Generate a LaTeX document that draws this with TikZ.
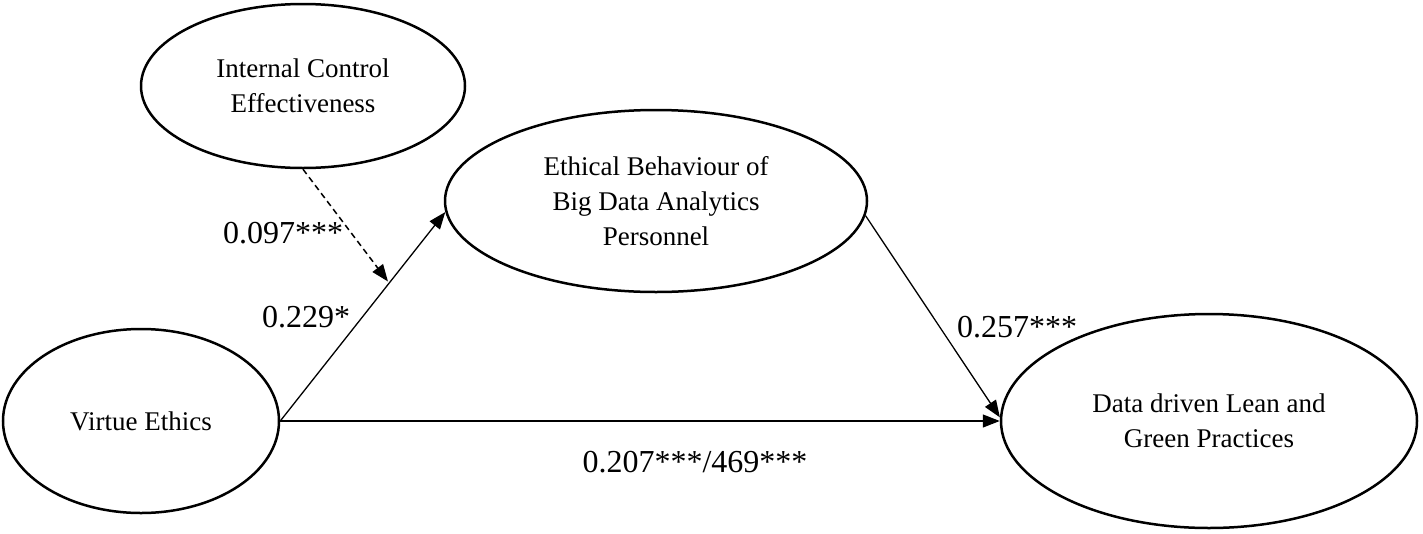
\documentclass[tikz,border=0pt]{standalone}
\usepackage{fontspec}
\setmainfont{Liberation Serif}
\usetikzlibrary{shapes.geometric,arrows.meta}
\begin{document}
\begin{tikzpicture}[x=1pt,y=-1pt,
 ell/.style={draw, ellipse, line width=2.5pt, inner sep=0pt, align=center, font=\fontsize{27}{35}\selectfont},
 lbl/.style={font=\fontsize{32}{38}\selectfont, inner sep=0pt},
 arr/.style={line width=1.3pt, -{Triangle[length=17pt,width=13pt]}},
 dasharr/.style={arr, line width=1.5pt, dash pattern=on 6pt off 4pt}]
\useasboundingbox (0,0) rectangle (1423,533);
\node[ell, minimum width=324pt, minimum height=164pt] (ice) at (303,86) {Internal Control\\Effectiveness};
\node[ell, minimum width=422pt, minimum height=182pt] (eb) at (656,201) {Ethical Behaviour of\\Big Data Analytics\\Personnel};
\node[ell, minimum width=276pt, minimum height=184pt] (ve) at (141,421) {Virtue Ethics};
\node[ell, minimum width=416pt, minimum height=214pt] (dd) at (1209,421) {Data driven Lean and\\Green Practices};
\node[lbl] (l1) at (283,233) {0.097***};
\node[lbl] (l2) at (306,317) {0.229*};
\node[lbl] (l3) at (1017,327) {0.257***};
\node[lbl] (l4) at (695,462) {0.207***/469***};
\draw[arr] (ve.east) -- coordinate[pos=0.66] (m) (eb.183.5);
\draw[arr] (ve.east) -- (dd.west);
\draw[arr] (eb.356.5) -- (dd.179);
\draw[dasharr, shorten >=2pt] (ice.south) -- (m);
\end{tikzpicture}
\end{document}
